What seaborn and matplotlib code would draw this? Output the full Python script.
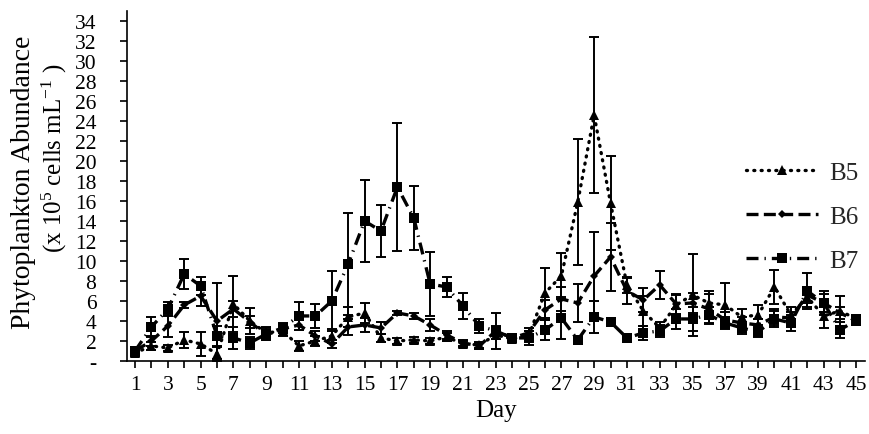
import matplotlib
matplotlib.use("Agg")
import matplotlib.pyplot as plt
import pandas as pd
import seaborn as sns

# Sampling days
days = list(range(1, 46))

# Mean abundance (x 10^5 cells mL^-1) and standard deviation per station
b5_mean = [0.8, 1.5, 1.3, 2.1, 1.7, 0.7, 5.7, 4.0, 2.8, 3.0,
           1.5, 2.0, 2.5, 4.4, 4.8, 2.3, 2.0, 2.1, 2.0, 2.4,
           1.7, 1.6, 2.6, 2.2, 2.5, 6.8, 8.5, 15.9, 24.6, 15.8,
           7.6, 5.0, 3.3, 5.6, 6.6, 5.8, 5.6, 4.4, 4.6, 7.4,
           4.6, 6.4, 4.5, 5.0, 4.2]
b5_sd = [0.3, 0.4, 0.3, 0.8, 1.2, 0.7, 2.8, 1.3, 0.6, 0.5,
         0.5, 0.5, 0.7, 1.0, 1.0, 0.4, 0.3, 0.3, 0.3, 0.4,
         0.3, 0.3, 0.4, 0.3, 0.5, 2.5, 2.3, 6.3, 7.8, 4.7,
         0.8, 1.5, 0.6, 1.0, 4.1, 1.2, 2.2, 0.8, 1.0, 1.7,
         0.8, 1.0, 1.2, 1.5, 0.4]

b6_mean = [1.0, 2.0, 3.5, 5.6, 6.5, 4.0, 5.2, 3.9, 2.6, 3.2,
           3.6, 2.5, 1.7, 3.4, 3.6, 3.3, 4.8, 4.5, 3.6, 2.6,
           1.8, 1.5, 3.0, 2.3, 2.8, 5.1, 6.2, 5.8, 8.5, 10.4,
           7.0, 6.1, 7.6, 5.7, 5.8, 5.2, 4.1, 3.8, 3.6, 4.4,
           4.3, 6.6, 5.8, 4.8, 4.0]
b6_sd = [0.2, 0.5, 1.1, 0.3, 1.0, 3.8, 0.8, 0.6, 0.5, 0.4,
         0.5, 0.5, 0.4, 0.8, 0.7, 0.6, 0.2, 0.3, 0.6, 0.4,
         0.3, 0.3, 0.5, 0.3, 0.5, 1.0, 1.2, 1.9, 4.4, 3.4,
         1.3, 1.2, 1.4, 1.0, 1.0, 1.5, 0.8, 0.6, 0.6, 0.8,
         0.6, 0.8, 0.9, 0.6, 0.4]

b7_mean = [1.0, 3.4, 5.2, 8.7, 7.5, 2.5, 2.3, 1.8, 2.7, 3.3,
           4.5, 4.5, 6.0, 9.7, 14.0, 13.0, 17.4, 14.3, 7.7, 7.4,
           5.5, 3.5, 3.0, 2.3, 2.3, 3.1, 4.3, 2.1, 4.4, 3.9,
           2.3, 2.8, 3.0, 4.2, 4.2, 4.6, 3.8, 3.3, 2.9, 4.2,
           3.8, 7.0, 5.8, 3.1, 4.1]
b7_sd = [0.3, 1.0, 0.7, 1.5, 0.9, 1.0, 1.1, 0.6, 0.6, 0.5,
         1.4, 1.2, 3.0, 5.1, 4.1, 2.6, 6.4, 3.2, 3.2, 1.0,
         1.3, 0.7, 1.8, 0.4, 0.7, 1.0, 2.1, 0.4, 1.6, 0.4,
         0.3, 0.7, 0.6, 1.0, 1.2, 0.8, 0.6, 0.6, 0.5, 0.8,
         0.8, 1.8, 1.2, 0.8, 0.5]

series_names = ["B5", "B6", "B7"]
y_ticks = list(range(0, 35, 2))
y_tick_labels = ["-"] + [str(v) for v in range(2, 35, 2)]
x_tick_labels = [str(d) if d % 2 == 1 else "" for d in days]

means = {"B5": b5_mean, "B6": b6_mean, "B7": b7_mean}
sds = {"B5": b5_sd, "B6": b6_sd, "B7": b7_sd}
marker_map = {"B5": "^", "B6": "D", "B7": "s"}
marker_size = {"^": 7.5, "D": 4.5, "s": 6.5}

df = pd.DataFrame({
    "Day": days * 3,
    "Abundance": b5_mean + b6_mean + b7_mean,
    "Series": [s for s in series_names for _ in days],
})

sns.set_theme(style="ticks")
plt.rcParams["font.family"] = ["Liberation Serif", "DejaVu Serif"]
plt.rcParams["mathtext.fontset"] = "custom"
plt.rcParams["mathtext.rm"] = "Liberation Serif"
plt.rcParams["mathtext.it"] = "Liberation Serif:italic"
plt.rcParams["mathtext.bf"] = "Liberation Serif:bold"

fig = plt.figure(figsize=(8.69, 4.35), dpi=100)
ax = fig.add_axes([0.146, 0.168, 0.849, 0.804])

# Error bars underneath the lines
for s in series_names:
    ax.errorbar(days, means[s], yerr=sds[s], fmt="none", ecolor="black",
                elinewidth=1.4, capsize=3.8, capthick=1.4, zorder=1)

sns.lineplot(
    data=df, x="Day", y="Abundance", hue="Series", style="Series",
    palette={"B5": "black", "B6": "black", "B7": "black"},
    markers=marker_map,
    dashes={"B5": (0.3, 1.9), "B6": (3.6, 1.6), "B7": (3.6, 1.8, 0.4, 1.8)},
    linewidth=2.4, markeredgewidth=0, markersize=7,
    estimator=None, errorbar=None, ax=ax, zorder=3,
)

# Round the dots of the dotted line and size each marker shape
for line in ax.lines:
    mk = line.get_marker()
    if mk in marker_size:
        line.set_markersize(marker_size[mk])
    if mk == "^":
        line.set_dash_capstyle("round")

ax.set_xlim(0.5, 45.5)
ax.set_ylim(0, 35)
ax.set_xticks(days)
ax.set_xticklabels(x_tick_labels)
ax.set_yticks(y_ticks)
ax.set_yticklabels(y_tick_labels)
ax.tick_params(axis="both", direction="out", length=5, width=1.2,
               color="black", labelsize=15.5, labelcolor="black")
ax.tick_params(axis="y", pad=17)
ax.tick_params(axis="x", pad=5)

sns.despine(ax=ax)
for side in ["left", "bottom"]:
    ax.spines[side].set_linewidth(1.2)
    ax.spines[side].set_color("black")

ax.set_xlabel("Day", fontsize=18, color="black", labelpad=4)
ax.set_ylabel("")

fig.text(24 / 869, 1 - 182 / 435, "Phytoplankton Abundance", rotation=90,
         ha="center", va="center", fontsize=20, color="black")
fig.text(54 / 869, 1 - 158 / 435, "(x 10$^{5}$ cells mL$^{-1}$ )", rotation=90,
         ha="center", va="center", fontsize=18, color="black")

sns.move_legend(
    ax, "center left", bbox_to_anchor=(0.858, 0.5), bbox_transform=fig.transFigure,
    frameon=False, title=None, fontsize=18, handlelength=2.9,
    handletextpad=0.45, labelspacing=0.85, borderpad=0, borderaxespad=0,
)
for h in ax.get_legend().legend_handles:
    h.set_color("black")
    mk = h.get_marker()
    if mk in marker_size:
        h.set_markersize(marker_size[mk])
    if mk == "^":
        h.set_dash_capstyle("round")

fig.savefig("out.png", dpi=100)
